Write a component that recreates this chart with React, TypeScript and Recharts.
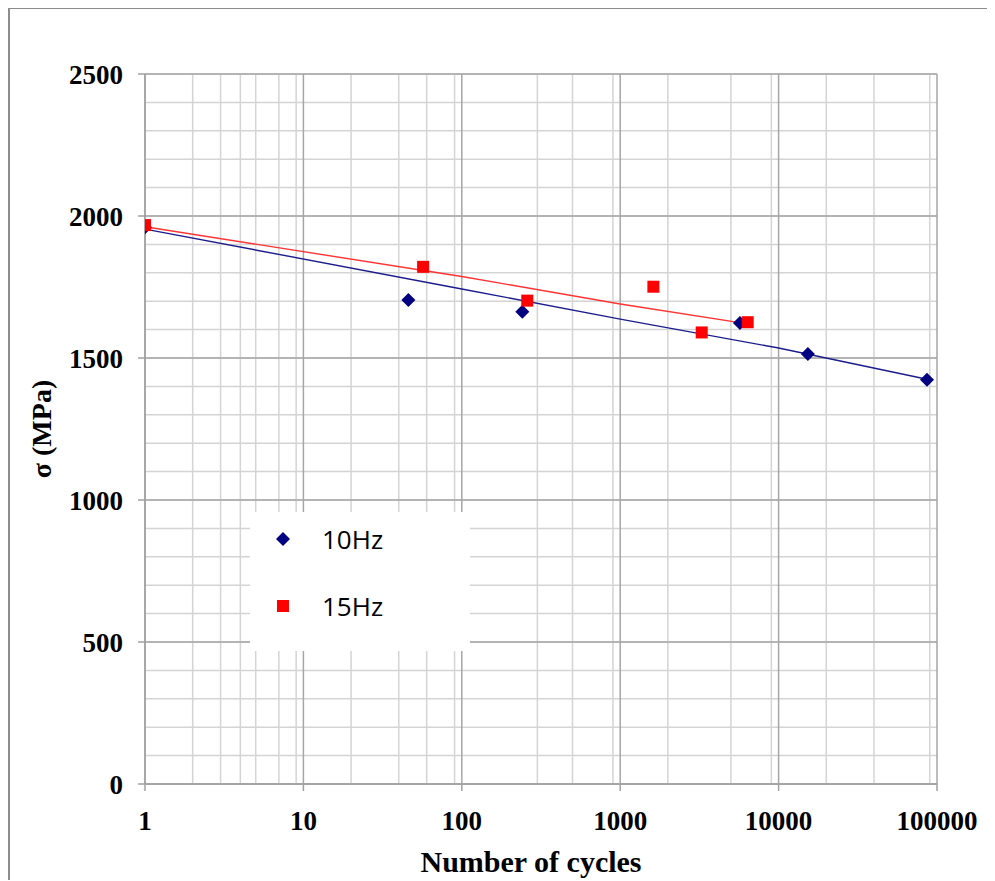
import React from "react";
import {
  ComposedChart,
  Scatter,
  XAxis,
  YAxis,
  CartesianGrid,
  Legend,
} from "recharts";

// cycles / stress (MPa)
const cycles10Hz = [1, 46, 241, 5700, 15300, 86500];
const stress10Hz = [1960, 1704, 1663, 1623, 1514, 1423];

const cycles15Hz = [1, 57, 259, 1620, 3270, 6380];
const stress15Hz = [1968, 1821, 1702, 1751, 1590, 1626];

// trend lines (power fits as drawn)
const trendCycles10Hz = [1, 100, 1000, 10000, 86500];
const trendStress10Hz = [1954, 1743, 1637, 1535, 1425];
const trendCycles15Hz = [1, 100, 1000, 6380];
const trendStress15Hz = [1962, 1787, 1690, 1620];

const xTicks = [1, 10, 100, 1000, 10000, 100000];
const yTicks = [0, 500, 1000, 1500, 2000, 2500];

const minorX = xTicks
  .slice(0, -1)
  .flatMap((d) => [2, 3, 4, 5, 6, 7, 8, 9].map((m) => d * m));
const minorY = Array.from({ length: 26 }, (_, i) => i * 100);

const zip = (xs: number[], ys: number[]) => xs.map((n, i) => ({ n, s: ys[i] }));

const points10 = zip(cycles10Hz, stress10Hz);
const points15 = zip(cycles15Hz, stress15Hz);
const trend10 = zip(trendCycles10Hz, trendStress10Hz);
const trend15 = zip(trendCycles15Hz, trendStress15Hz);

const NAVY = "#000080";
const RED = "#ff0000";

const Diamond = (props: any) => {
  const { cx, cy } = props;
  const r = 7;
  return (
    <polygon
      points={`${cx},${cy - r} ${cx + r},${cy} ${cx},${cy + r} ${cx - r},${cy}`}
      fill={NAVY}
    />
  );
};

const Square = (props: any) => {
  const { cx, cy } = props;
  const h = 6;
  return <rect x={cx - h} y={cy - h} width={2 * h} height={2 * h} fill={RED} />;
};

const NoDot = () => <g />;

const tickFont = {
  fontFamily: "'Liberation Serif', 'Times New Roman', serif",
  fontWeight: 700,
  fontSize: 27,
  fill: "#000",
};

function LegendBox() {
  const row = (label: string, marker: React.ReactNode, top: number) => (
    <div
      style={{
        position: "absolute",
        left: 0,
        top,
        height: 30,
        display: "flex",
        alignItems: "center",
      }}
    >
      <svg width={70} height={30} style={{ display: "block" }}>
        {marker}
      </svg>
      <span
        style={{
          fontFamily: "'Open Sans', 'Noto Sans', sans-serif",
          fontSize: 26,
          color: "#000",
          marginLeft: 2,
        }}
      >
        {label}
      </span>
    </div>
  );
  return (
    <div
      style={{
        position: "relative",
        width: 220,
        height: 139,
        background: "#fff",
      }}
    >
      {row(
        "10Hz",
        <polygon points="33,8 40,15 33,22 26,15" fill={NAVY} />,
        12
      )}
      {row("15Hz", <rect x={27} y={9} width={12} height={12} fill={RED} />, 79)}
    </div>
  );
}

export default function App() {
  return (
    <div
      style={{
        position: "relative",
        width: 987,
        height: 873,
        marginTop: -1,
        borderTop: "2px solid #8c8c8c",
        borderLeft: "2px solid #8c8c8c",
        boxSizing: "border-box",
        background: "#fff",
      }}
    >
      <ComposedChart
        width={985}
        height={871}
        margin={{ top: 65, right: 58, left: 0, bottom: 0 }}
      >
        <CartesianGrid
          stroke="#d4d4d4"
          strokeWidth={1.5}
          verticalValues={minorX}
          horizontalValues={minorY}
        />
        <CartesianGrid
          stroke="#a6a6a6"
          strokeWidth={1.5}
          verticalValues={xTicks}
          horizontalValues={yTicks}
        />
        <XAxis
          dataKey="n"
          type="number"
          scale="log"
          domain={[1, 100000]}
          ticks={xTicks}
          allowDataOverflow
          height={96}
          tickSize={7}
          tickMargin={20}
          tick={tickFont}
          stroke="#a0a0a0"
          strokeWidth={1.5}
          label={{
            value: "Number of cycles",
            position: "insideBottom",
            offset: 8,
            dx: -10,
            style: { ...tickFont, fontSize: 30 },
          }}
        />
        <YAxis
          dataKey="s"
          type="number"
          domain={[0, 2500]}
          ticks={yTicks}
          width={135}
          tickSize={7}
          tickMargin={15}
          tick={tickFont}
          stroke="#a0a0a0"
          strokeWidth={1.5}
          label={{
            value: "σ (MPa)",
            angle: -90,
            position: "insideLeft",
            offset: 31,
            style: { ...tickFont, fontSize: 28, textAnchor: "middle" },
          }}
        />
        <Legend
          layout="vertical"
          align="center"
          verticalAlign="middle"
          wrapperStyle={{ left: 240, top: 503, width: 220 }}
          content={() => <LegendBox />}
        />
        <Scatter
          name="trend10"
          data={trend10}
          line={{ stroke: "#1c1c8c", strokeWidth: 1.4 }}
          shape={NoDot}
          isAnimationActive={false}
          legendType="none"
        />
        <Scatter
          name="trend15"
          data={trend15}
          line={{ stroke: "#ff3333", strokeWidth: 1.4 }}
          shape={NoDot}
          isAnimationActive={false}
          legendType="none"
        />
        <Scatter
          name="10Hz"
          data={points10}
          shape={Diamond}
          isAnimationActive={false}
        />
        <Scatter
          name="15Hz"
          data={points15}
          shape={Square}
          isAnimationActive={false}
        />
      </ComposedChart>
    </div>
  );
}
